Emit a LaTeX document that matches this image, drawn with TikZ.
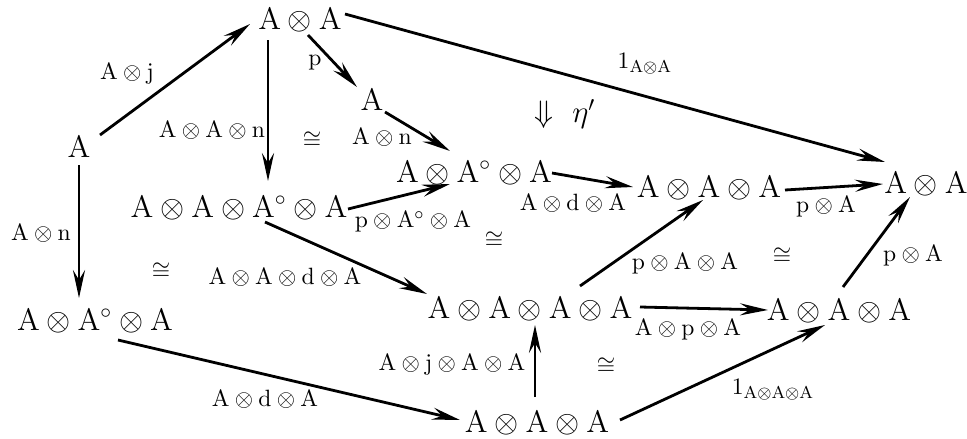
\documentclass[tikz,border=0pt]{standalone}
\usetikzlibrary{arrows.meta}
\newcommand\mainsize{\fontsize{14.4}{17}\selectfont}
\newcommand\labsize{\fontsize{10.95}{13}\selectfont}
\tikzset{
  obj/.style={anchor=base, inner sep=0pt, font=\mainsize},
  lab/.style={inner sep=0pt, font=\labsize},
  arr/.style={line width=1.3pt, -{Stealth[length=13pt,width=5.6pt,inset=4.6pt]}},
}
\begin{document}
\begin{tikzpicture}[x=0.4645pt,y=-0.4645pt]
\useasboundingbox (0,0) rectangle (967,438);
% objects
\node[obj] (L)  at (79,157)  {$\mathrm{A}$};
\node[obj] (T)  at (300,29)  {$\mathrm{A\otimes A}$};
\node[obj] (M)  at (372,110) {$\mathrm{A}$};
\node[obj] (N1) at (474,182) {$\mathrm{A\otimes A^{\circ}\otimes A}$};
\node[obj] (N2) at (239,217) {$\mathrm{A\otimes A\otimes A^{\circ}\otimes A}$};
\node[obj] (N3) at (709,197) {$\mathrm{A\otimes A\otimes A}$};
\node[obj] (R)  at (926,193) {$\mathrm{A\otimes A}$};
\node[obj] (BL) at (95,330)  {$\mathrm{A\otimes A^{\circ}\otimes A}$};
\node[obj] (Q)  at (530,318) {$\mathrm{A\otimes A\otimes A\otimes A}$};
\node[obj] (RB) at (839,320) {$\mathrm{A\otimes A\otimes A}$};
\node[obj] (B)  at (537,432) {$\mathrm{A\otimes A\otimes A}$};
% arrows
\draw[arr] ([shift={(21,-22)}]L.base) -- ([shift={(-50,-5)}]T.base);
\draw[arr] ([shift={(8,6)}]T.base) -- ([shift={(-15,-23)}]M.base);
\draw[arr] ([shift={(-32,11)}]T.base) -- ([shift={(29,-36)}]N2.base);
\draw[arr] ([shift={(13,2)}]M.base) -- ([shift={(-24,-31)}]N1.base);
\draw[arr] ([shift={(109,-8)}]N2.base) -- ([shift={(-24,2)}]N1.base);
\draw[arr] ([shift={(78,-9)}]N1.base) -- ([shift={(-76,-10)}]N3.base);
\draw[arr] ([shift={(76,-7)}]N3.base) -- ([shift={(-43,-9)}]R.base);
\draw[arr] ([shift={(45,-15)}]T.base) -- ([shift={(-41,-31)}]R.base);
\draw[arr] ([shift={(0,8)}]L.base) -- ([shift={(-16,-32)}]BL.base);
\draw[arr] ([shift={(26,5)}]N2.base) -- ([shift={(-103,-24)}]Q.base);
\draw[arr] ([shift={(23,10)}]BL.base) -- ([shift={(-77,-12)}]B.base);
\draw[arr] ([shift={(-2,-35)}]B.base) -- ([shift={(5,7)}]Q.base);
\draw[arr] ([shift={(50,-32)}]Q.base) -- ([shift={(-6,3)}]N3.base);
\draw[arr] ([shift={(110,-11)}]Q.base) -- ([shift={(-71,-10)}]RB.base);
\draw[arr] ([shift={(83,-12)}]B.base) -- ([shift={(-14,5)}]RB.base);
\draw[arr] ([shift={(4,-33)}]RB.base) -- ([shift={(-16,4)}]R.base);
% labels
\node[lab] (l1)  at (127,74)  {$\mathrm{A\otimes j}$};
\node[lab] (l2)  at (315,63)  {$\mathrm{p}$};
\node[lab] (l3)  at (212,130) {$\mathrm{A\otimes A\otimes n}$};
\node[lab] (c1)  at (312,140) {$\cong$};
\node[lab] (l4)  at (382,137) {$\mathrm{A\otimes n}$};
\node[obj, anchor=center] (eta) at (565,114) {$\Downarrow\ \eta'$};
\node[lab] (l5)  at (645,64)  {$\mathrm{1_{A\otimes A}}$};
\node[lab] (l6)  at (413,222) {$\mathrm{p\otimes A^{\circ}\otimes A}$};
\node[lab] (l7)  at (573,203) {$\mathrm{A\otimes d\otimes A}$};
\node[lab] (l8)  at (826,207) {$\mathrm{p\otimes A}$};
\node[lab] (l9)  at (41,233)  {$\mathrm{A\otimes n}$};
\node[lab] (c2)  at (161,271) {$\cong$};
\node[lab] (l10) at (285,277) {$\mathrm{A\otimes A\otimes d\otimes A}$};
\node[lab] (c3)  at (494,240) {$\cong$};
\node[lab] (l11) at (685,264) {$\mathrm{p\otimes A\otimes A}$};
\node[lab] (c4)  at (782,256) {$\cong$};
\node[lab] (l12) at (913,256) {$\mathrm{p\otimes A}$};
\node[lab] (l13) at (688,330) {$\mathrm{A\otimes p\otimes A}$};
\node[lab] (l14) at (265,399) {$\mathrm{A\otimes d\otimes A}$};
\node[lab] (l15) at (452,365) {$\mathrm{A\otimes j\otimes A\otimes A}$};
\node[lab] (c5)  at (606,366) {$\cong$};
\node[lab] (l16) at (773,390) {$\mathrm{1_{A\otimes A\otimes A}}$};
\end{tikzpicture}
\end{document}
